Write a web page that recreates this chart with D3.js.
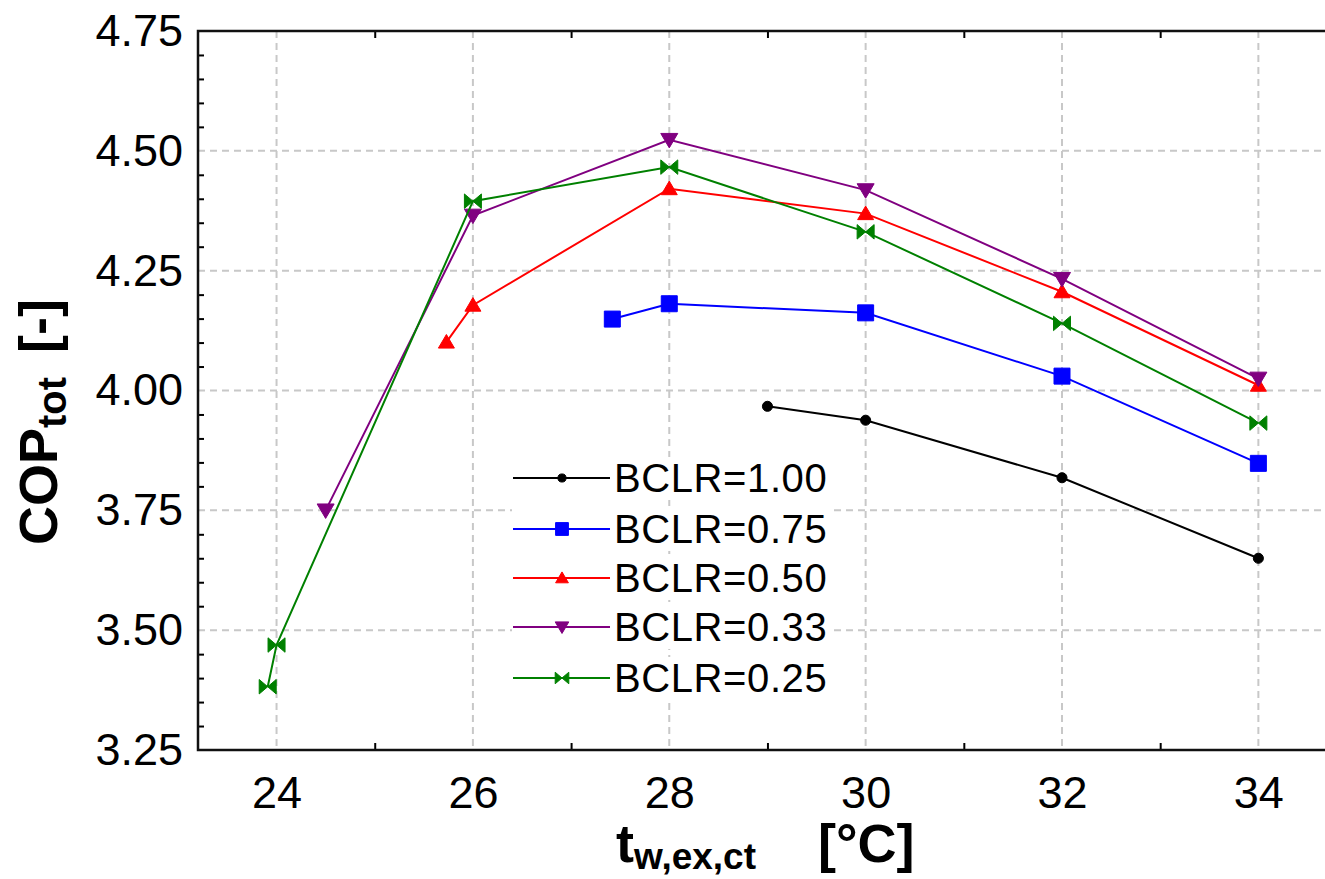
<!DOCTYPE html>
<html><head><meta charset="utf-8">
<script src="https://cdn.jsdelivr.net/npm/d3@7"></script>
<style>body{margin:0;background:#fff}svg{display:block}text{font-family:"Liberation Sans",Arial,sans-serif}</style>
</head><body><svg id="c" width="1325" height="879"></svg>
<script>
// ---- data ----
const xTicks = [24, 26, 28, 30, 32, 34];
const xMinor = [25, 27, 29, 31, 33];
const yTicks = [3.25, 3.50, 3.75, 4.00, 4.25, 4.50, 4.75];
const seriesNames = ["BCLR=1.00", "BCLR=0.75", "BCLR=0.50", "BCLR=0.33", "BCLR=0.25"];
const seriesColors = ["#000000", "#0000ff", "#ff0000", "#800080", "#008000"];
const seriesMarkers = ["circle", "square", "triUp", "triDown", "bowtie"];
const bclr100X = [29, 30, 32, 34];
const bclr100Y = [3.967, 3.938, 3.818, 3.650];
const bclr075X = [27.42, 28, 30, 32, 34];
const bclr075Y = [4.149, 4.181, 4.162, 4.030, 3.848];
const bclr050X = [25.73, 26, 28, 30, 32, 34];
const bclr050Y = [4.101, 4.178, 4.421, 4.369, 4.206, 4.011];
const bclr033X = [24.5, 26, 28, 30, 32, 34];
const bclr033Y = [3.750, 4.365, 4.523, 4.418, 4.233, 4.025];
const bclr025X = [23.91, 24, 26, 28, 30, 32, 34];
const bclr025Y = [3.382, 3.469, 4.395, 4.466, 4.331, 4.140, 3.932];
const seriesX = [bclr100X, bclr075X, bclr050X, bclr033X, bclr025X];
const seriesY = [bclr100Y, bclr075Y, bclr050Y, bclr033Y, bclr025Y];

// ---- layout ----
const L = 198, R = 1332, T = 31, B = 750;
const svg = d3.select("#c");
const x = d3.scaleLinear().domain([23.2, 34.75]).range([L, R]);
const y = d3.scaleLinear().domain([3.25, 4.75]).range([B, T]);

const yMinor = d3.range(3.25, 4.7501, 0.05).map(v => +v.toFixed(2)).filter(v => !yTicks.some(t => Math.abs(t - v) < 1e-6));

// grid
const grid = svg.append("g").attr("stroke", "#c8c8c8").attr("stroke-width", 2).attr("stroke-dasharray", "7,5");
grid.selectAll("line.v").data(xTicks).join("line").attr("class", "v")
  .attr("x1", d => x(d)).attr("x2", d => x(d)).attr("y1", T).attr("y2", B);
grid.selectAll("line.h").data(yTicks.slice(1, -1)).join("line").attr("class", "h")
  .attr("x1", L).attr("x2", R).attr("y1", d => y(d)).attr("y2", d => y(d));

// minor ticks via axes (inward)
svg.append("g").attr("transform", `translate(0,${B})`)
  .call(d3.axisTop(x).tickValues(xMinor).tickSize(7).tickFormat(""))
  .call(g => g.select(".domain").remove()).selectAll("line").attr("stroke-width", 2);
svg.append("g").attr("transform", `translate(0,${T})`)
  .call(d3.axisBottom(x).tickValues(xMinor).tickSize(7).tickFormat(""))
  .call(g => g.select(".domain").remove()).selectAll("line").attr("stroke-width", 2);
svg.append("g").attr("transform", `translate(${L},0)`)
  .call(d3.axisRight(y).tickValues(yMinor).tickSize(6).tickFormat(""))
  .call(g => g.select(".domain").remove()).selectAll("line").attr("stroke-width", 2);

// tick labels via axes
svg.append("g").attr("transform", `translate(0,${B})`)
  .call(d3.axisBottom(x).tickValues(xTicks).tickSize(0).tickPadding(26).tickFormat(d3.format("d")))
  .call(g => g.select(".domain").remove())
  .selectAll("text").attr("font-size", 45).attr("fill", "#000").attr("font-family", "Liberation Sans, Arial, sans-serif");
svg.append("g").attr("transform", `translate(${L},0)`)
  .call(d3.axisLeft(y).tickValues(yTicks).tickSize(0).tickPadding(15).tickFormat(d3.format(".2f")))
  .call(g => g.select(".domain").remove())
  .selectAll("text").attr("font-size", 45).attr("fill", "#000").attr("font-family", "Liberation Sans, Arial, sans-serif");

// frame
svg.append("rect").attr("x", L).attr("y", T).attr("width", R - L).attr("height", B - T)
  .attr("fill", "none").attr("stroke", "#111").attr("stroke-width", 2.5);

// markers
function markerPath(type, s) {
  const h = s / 2;
  switch (type) {
    case "circle": return d3.symbol(d3.symbolCircle, s * s * 0.8)();
    case "square": return `M${-h},${-h}H${h}V${h}H${-h}Z`;
    case "triUp": return `M0,${-h * 0.95}L${h},${h * 0.75}L${-h},${h * 0.75}Z`;
    case "triDown": return `M0,${h * 0.95}L${h},${-h * 0.75}L${-h},${-h * 0.75}Z`;
    case "bowtie": return `M${-h},${-h * 0.85}L0,0L${-h},${h * 0.85}Z M${h},${-h * 0.85}L0,0L${h},${h * 0.85}Z`;
  }
}
const markerSize = [10, 16, 16, 17, 17];

const line = d3.line().x(d => x(d[0])).y(d => y(d[1]));
seriesNames.forEach((name, i) => {
  const pts = seriesX[i].map((v, j) => [v, seriesY[i][j]]);
  const g = svg.append("g");
  g.append("path").datum(pts).attr("d", line).attr("fill", "none")
    .attr("stroke", seriesColors[i]).attr("stroke-width", 2);
  g.selectAll("path.m").data(pts).join("path").attr("class", "m")
    .attr("transform", d => `translate(${x(d[0])},${y(d[1])})`)
    .attr("d", markerPath(seriesMarkers[i], markerSize[i]))
    .attr("fill", seriesColors[i]).attr("stroke", seriesColors[i]).attr("stroke-width", 1);
});

// legend
const legRows = [478, 529, 578, 627, 678];
const lg = svg.append("g");
seriesNames.forEach((name, i) => {
  const cy = legRows[i];
  lg.append("rect").attr("x", 512).attr("y", cy - 21).attr("width", 322).attr("height", 43).attr("fill", "#fff");
  lg.append("line").attr("x1", 513).attr("x2", 610).attr("y1", cy).attr("y2", cy)
    .attr("stroke", seriesColors[i]).attr("stroke-width", 2);
  lg.append("path").attr("transform", `translate(562,${cy})`)
    .attr("d", markerPath(seriesMarkers[i], markerSize[i] * 0.8))
    .attr("fill", seriesColors[i]).attr("stroke", seriesColors[i]).attr("stroke-width", 1);
  lg.append("text").attr("x", 614).attr("y", cy + 14).attr("font-size", 40).attr("letter-spacing", 0.6).attr("fill", "#000").text(name);
});

// axis titles
const xt = svg.append("text").attr("x", 616).attr("y", 862).attr("font-size", 54).attr("font-weight", "bold").attr("fill", "#000");
xt.append("tspan").text("t");
xt.append("tspan").attr("font-size", 37).attr("dy", 7).text("w,ex,ct");
xt.append("tspan").attr("x", 818).attr("dy", -7).text("[°C]");

const yt = svg.append("text").attr("transform", "translate(57,545) rotate(-90)").attr("font-size", 54).attr("font-weight", "bold").attr("fill", "#000");
yt.append("tspan").text("COP");
yt.append("tspan").attr("font-size", 40).attr("dy", 9).text("tot");
yt.append("tspan").attr("x", 192).attr("dy", -9).text("[-]");
</script></body></html>
